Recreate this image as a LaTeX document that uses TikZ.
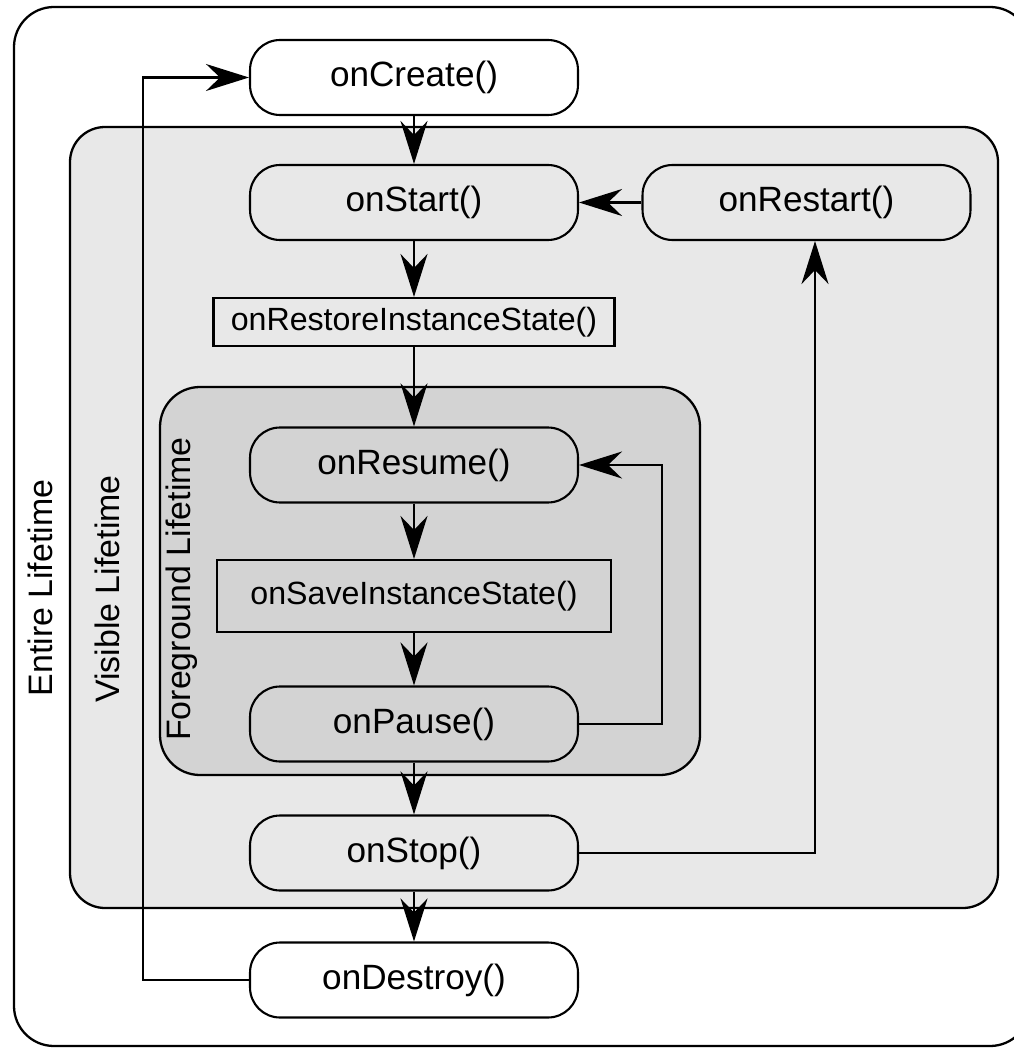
\documentclass[tikz,border=0pt]{standalone}
\usepackage{fontspec}
\setmainfont{Liberation Sans}
\usetikzlibrary{arrows.meta}
\definecolor{visgray}{HTML}{E8E8E8}
\definecolor{fggray}{HTML}{D3D3D3}
\tikzset{
  lifebox/.style={draw, line width=1.3pt},
  callbox/.style={draw, line width=1.2pt, rounded corners=0.6cm, minimum width=6.56cm, minimum height=1.5cm, font=\fontsize{20}{24}\selectfont},
  statebox/.style={draw, line width=1.2pt, font=\fontsize{18.3}{22}\selectfont},
  arr/.style={line width=1.2pt, -{Stealth[length=0.86cm, width=0.54cm, inset=0.28cm]}},
  lifelabel/.style={rotate=90, font=\fontsize{19.3}{24}\selectfont}
}
\begin{document}
\begin{tikzpicture}[x=0.02cm, y=-0.02cm]
    \useasboundingbox (0,0) rectangle (1013,1050);
    % Lifetimes
    \draw[lifebox, fill=white, rounded corners=0.8cm] (14,7) rectangle (1030,1046);
    \draw[lifebox, fill=visgray, rounded corners=0.7cm] (70,127) rectangle (998,908);
    \draw[lifebox, fill=fggray, rounded corners=0.8cm] (160,387) rectangle (700,775);
    \node[lifelabel] (entire) at (40,588) {Entire Lifetime};
    \node[lifelabel] (visible) at (107,589) {Visible Lifetime};
    \node[lifelabel] (foreground) at (182,589) {Foreground Lifetime};
    % Callbacks
    \node[callbox, fill=white] (create) at (414,77.5) {onCreate()};
    \node[callbox, fill=visgray] (start) at (414,202.5) {onStart()};
    \node[callbox, fill=visgray] (restart) at (806.5,202.5) {onRestart()};
    \node[statebox, fill=visgray, minimum width=8.02cm, minimum height=0.96cm] (restore) at (414,322) {onRestoreInstanceState()};
    \node[callbox, fill=fggray] (resume) at (414,465) {onResume()};
    \node[statebox, fill=fggray, minimum width=7.88cm, minimum height=1.44cm] (save) at (414,596) {onSaveInstanceState()};
    \node[callbox, fill=fggray] (pause) at (414,724) {onPause()};
    \node[callbox, fill=visgray] (stop) at (414,853) {onStop()};
    \node[callbox, fill=white] (destroy) at (414,980) {onDestroy()};
    % Main flow
    \foreach \a/\b in {create/start, start/restore, restore/resume, resume/save, save/pause, pause/stop, stop/destroy}
        \draw[arr] (\a) -- (\b);
    % Loops
    \coordinate (pauseloop) at (662,600);
    \coordinate (destroyloop) at (143,500);
    \draw[arr] (pause.east) -| (pauseloop) |- (resume.east);
    \draw[arr] (stop.east) -| ([xshift=0.17cm]restart.south);
    \draw[arr] (restart.west) -- (start.east);
    \draw[arr] (destroy.west) -| (destroyloop) |- (create.west);
\end{tikzpicture}
\end{document}
